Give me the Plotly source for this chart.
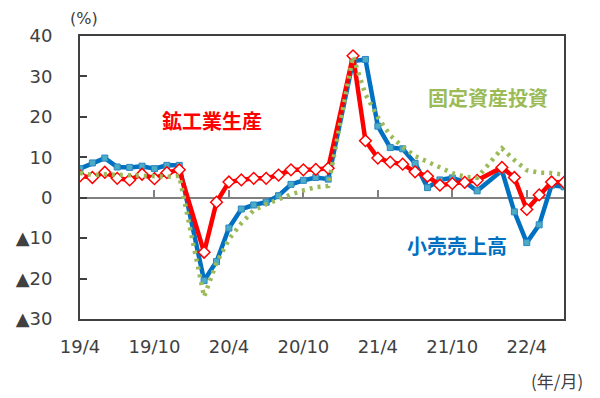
import plotly.graph_objects as go

# 2019/4 .. 2022/7 (monthly). January values are not published separately (Jan-Feb combined) -> None
months = ["19/4","19/5","19/6","19/7","19/8","19/9","19/10","19/11","19/12",
          "20/1","20/2","20/3","20/4","20/5","20/6","20/7","20/8","20/9","20/10","20/11","20/12",
          "21/1","21/2","21/3","21/4","21/5","21/6","21/7","21/8","21/9","21/10","21/11","21/12",
          "22/1","22/2","22/3","22/4","22/5","22/6","22/7"]

industrial = [5.4,5.0,6.3,4.8,4.4,5.8,4.7,6.2,6.9,
              None,-13.5,-1.1,3.9,4.4,4.8,4.8,5.6,6.9,6.9,7.0,7.3,
              None,35.1,14.1,9.8,8.8,8.3,6.4,5.3,3.1,3.5,3.8,4.3,
              None,7.5,5.0,-2.9,0.7,3.9,3.8]

retail = [7.2,8.6,9.8,7.6,7.5,7.8,7.2,8.0,8.0,
          None,-20.5,-15.8,-7.5,-2.8,-1.8,-1.1,0.5,3.3,4.3,5.0,4.6,
          None,33.8,34.2,17.7,12.4,12.1,8.5,2.5,4.4,4.9,3.9,1.7,
          None,6.7,-3.5,-11.1,-6.7,3.1,2.7]

fai = [6.1,5.6,5.8,5.7,5.5,5.4,5.2,5.2,5.4,
       None,-24.5,-16.1,-10.3,-6.3,-3.1,-1.6,-0.3,0.8,1.8,2.6,2.9,
       None,35.0,25.6,19.9,15.4,12.6,10.3,8.9,7.3,6.1,5.2,4.9,
       None,12.2,9.3,6.8,6.2,6.1,5.7]

xtick_labels = ["19/4","19/10","20/4","20/10","21/4","21/10","22/4"]
ytick_vals = [40,30,20,10,0,-10,-20,-30]
ytick_text = ["40","30","20","10","0","▲10","▲20","▲30"]

x = list(range(len(months)))
xtick_vals = [months.index(m) for m in xtick_labels]

fig = go.Figure()

fig.add_trace(go.Scatter(
    x=x, y=retail, mode="lines+markers", connectgaps=True, name="小売売上高",
    line=dict(color="#0070C0", width=4.5),
    marker=dict(symbol="square", size=6, color="#4BACC6", line=dict(color="#2C86C0", width=1)),
))
fig.add_trace(go.Scatter(
    x=x, y=industrial, mode="lines+markers", connectgaps=True, name="鉱工業生産",
    line=dict(color="#FF0000", width=4.5),
    marker=dict(symbol="diamond", size=9, color="white", line=dict(color="#FF0000", width=1.5)),
))
fig.add_trace(go.Scatter(
    x=x, y=fai, mode="lines", connectgaps=True, name="固定資産投資",
    line=dict(color="#9BBB59", width=4.5, dash="3px,5px"),
))
# dummy trace to host the zero-line axis
fig.add_trace(go.Scatter(x=[x[0], x[-1]], y=[None, None], xaxis="x2", yaxis="y",
                         showlegend=False, hoverinfo="skip"))

tickfont = dict(family="DejaVu Sans", size=18, color="#404040")

def label(text, x, y, color, size=20, bold=True, family="Noto Sans CJK JP"):
    return dict(text=text, xref="paper", yref="paper", x=x, y=y, showarrow=False,
                xanchor="center", yanchor="middle",
                font=dict(family=family, size=size, color=color,
                          weight="bold" if bold else "normal"))

fig.update_layout(
    width=592, height=390,
    margin=dict(l=72, r=36, t=28, b=79, autoexpand=False),
    plot_bgcolor="white", paper_bgcolor="white",
    showlegend=False,
    xaxis=dict(
        range=[0, len(months) - 1], tickmode="array", tickvals=xtick_vals, ticktext=xtick_labels,
        showline=True, linecolor="#404040", linewidth=2, mirror=True, automargin=False,
        ticks="", showgrid=False, zeroline=False, tickfont=tickfont, ticklabelstandoff=10,
    ),
    xaxis2=dict(
        overlaying="x", anchor="free", position=30/70, side="bottom",
        range=[0, len(months) - 1], tickmode="array", tickvals=xtick_vals[1:],
        showticklabels=False, showline=True, linecolor="#808080", linewidth=2,
        ticks="inside", ticklen=7, tickwidth=2, tickcolor="#808080",
        showgrid=False, zeroline=False, layer="below traces", automargin=False,
    ),
    yaxis=dict(
        range=[-30, 40], tickmode="array", tickvals=ytick_vals, ticktext=ytick_text,
        showline=True, linecolor="#404040", linewidth=2, mirror=True, automargin=False,
        ticks="inside", ticklen=7, tickwidth=2, tickcolor="#404040",
        showgrid=False, zeroline=False, tickfont=tickfont, ticklabelstandoff=22,
    ),
    annotations=[
        label("鉱工業生産", 0.272, 0.703, "#FF0000"),
        label("固定資産投資", 0.843, 0.781, "#9BBB59"),
        label("小売売上高", 0.779, 0.258, "#0070C0"),
        label("(%)", 0.008, 1.062, "#404040", size=16, bold=False, family="DejaVu Sans"),
        label("(年/月)", 0.986, -0.216, "#404040", size=17, bold=False),
    ],
)

fig.write_html("out.html")
